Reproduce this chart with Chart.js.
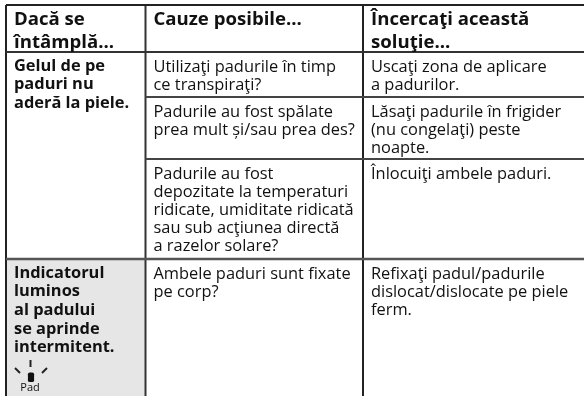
<!DOCTYPE html>
<html>
<head>
<meta charset="utf-8">
<style>
  html, body { margin: 0; padding: 0; background: #fff; }
  #chart { display: block; }
</style>
<script src="https://cdn.jsdelivr.net/npm/chart.js@4"></script>
</head>
<body>
<canvas id="chart" width="584" height="396"></canvas>
<script>
const columnEdges = [6, 145.5, 363, 584]
const rowEdges = [5, 52, 97, 159, 259, 396]

const headerCells = [
    ['Dacă se', 'întâmplă...'],
    ['Cauze posibile...'],
    ['Încercaţi această', 'soluţie...']
]
const problemCells = [
    { row: 1, lines: ['Gelul de pe', 'paduri nu', 'aderă la piele.'] },
    { row: 4, lines: ['Indicatorul', 'luminos', 'al padului', 'se aprinde', 'intermitent.'] }
]
const causeCells = [
    ['Utilizaţi padurile în timp', 'ce transpiraţi?'],
    ['Padurile au fost spălate', 'prea mult și/sau prea des?'],
    ['Padurile au fost', 'depozitate la temperaturi', 'ridicate, umiditate ridicată', 'sau sub acţiunea directă', 'a razelor solare?'],
    ['Ambele paduri sunt fixate', 'pe corp?']
]
const solutionCells = [
    ['Uscaţi zona de aplicare', 'a padurilor.'],
    ['Lăsaţi padurile în frigider', '(nu congelaţi) peste', 'noapte.'],
    ['Înlocuiţi ambele paduri.'],
    ['Refixaţi padul/padurile', 'dislocat/dislocate pe piele', 'ferm.']
]
const iconLabel = 'Pad'

function rule(x1, y1, x2, y2, color, width) {
    return {
        type: 'scatter', showLine: true, pointRadius: 0,
        borderColor: color, borderWidth: width,
        data: [{ x: x1, y: y1 }, { x: x2, y: y2 }]
    }
}

const [colLeft, col1, col2, colRight] = columnEdges
const [rowTop, rowHead, row1, row2, row3, rowBottom] = rowEdges

const datasets = [
    // blinking pad icon
    rule(30.5, 360, 30.5, 367, '#222', 2),
    rule(15, 368, 20, 373, '#222', 2),
    rule(47, 368, 42, 373, '#222', 2),
    {
        type: 'scatter', pointStyle: 'rectRounded', pointRadius: 3.6,
        backgroundColor: '#111', borderWidth: 0,
        data: [{ x: 31, y: 375.5 }, { x: 31, y: 379 }]
    },
    rule(colLeft, rowTop, colRight, rowTop, '#222', 2),
    rule(colLeft, rowHead, colRight, rowHead, '#333', 2),
    rule(col1, row1, colRight, row1, '#444', 2),
    rule(col1, row2, colRight, row2, '#444', 2),
    rule(colLeft, row3, colRight, row3, '#555', 2.5),
    rule(colLeft, rowTop, colLeft, rowBottom, '#222', 2),
    rule(col1, rowTop, col1, rowBottom, '#333', 2),
    rule(col2, rowTop, col2, rowBottom, '#222', 2),
    // shaded cell behind the second problem, datasets draw last to first
    {
        type: 'scatter', showLine: true, pointRadius: 0, borderWidth: 0,
        backgroundColor: '#e6e6e6',
        fill: { target: { value: rowBottom } },
        data: [{ x: colLeft, y: row3 }, { x: col1, y: row3 }]
    }
]

const bodyFont = '16.4px "Open Sans"'
const boldFont = 'bold 16.4px "Open Sans"'
const headFont = 'bold 18.6px "Open Sans"'

const tableText = {
    id: 'tableText',
    afterDatasetsDraw(chart) {
        const { ctx, scales: { x, y } } = chart
        ctx.save()
        ctx.fillStyle = '#111'
        ctx.textBaseline = 'alphabetic'
        function put(lines, colX, firstY, pitch, font) {
            ctx.font = font
            lines.forEach((line, i) => ctx.fillText(line, x.getPixelForValue(colX + 8), y.getPixelForValue(firstY + i * pitch)))
        }
        headerCells.forEach((lines, c) => put(lines, columnEdges[c], 24.5, 23, headFont))
        problemCells.forEach(cell => put(cell.lines, colLeft, rowEdges[cell.row] + 18.5, 18.7, boldFont))
        causeCells.forEach((lines, r) => put(lines, col1, rowEdges[r + 1] + 19.5, 18.2, bodyFont))
        solutionCells.forEach((lines, r) => put(lines, col2, rowEdges[r + 1] + 19.5, 18.2, bodyFont))
        ctx.font = '11px "Open Sans"'
        ctx.textAlign = 'center'
        ctx.fillText(iconLabel, x.getPixelForValue(30), y.getPixelForValue(391))
        ctx.restore()
    }
}

new Chart(document.querySelector('#chart'), {
    data: { datasets },
    plugins: [tableText],
    options: {
        responsive: false,
        animation: false,
        layout: { padding: 0, autoPadding: false },
        plugins: { legend: { display: false }, tooltip: { enabled: false } },
        scales: {
            x: { type: 'linear', display: false, min: 0, max: 584 },
            y: { type: 'linear', display: false, min: 0, max: 396, reverse: true }
        }
    }
})
</script>
</body>
</html>
